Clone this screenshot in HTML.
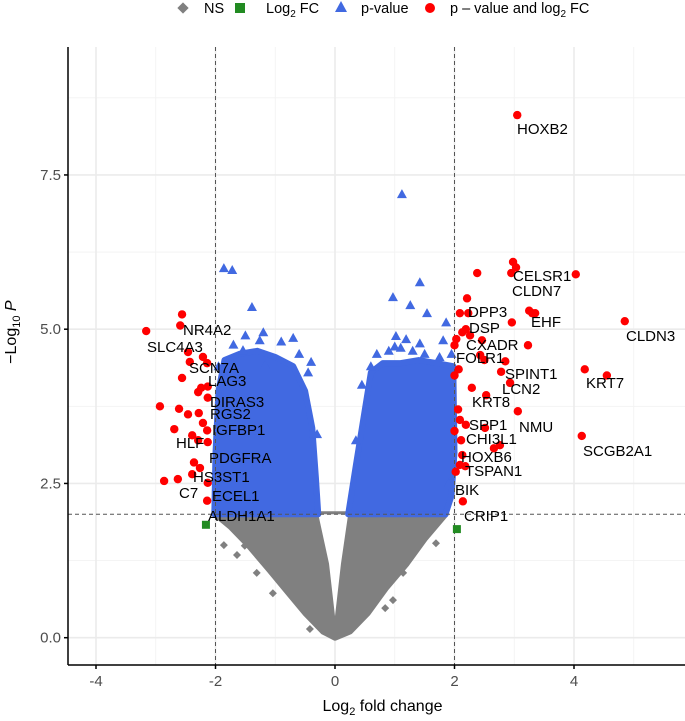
<!DOCTYPE html>
<html><head><meta charset="utf-8"><style>
body{margin:0;background:#fff;}
svg{display:block;font-family:"Liberation Sans",sans-serif;}
.lg{position:absolute;top:0px;font-size:14.5px;color:#000;white-space:nowrap;line-height:18px;}
</style></head><body>
<svg id="chart" width="685" height="721" xmlns="http://www.w3.org/2000/svg"></svg>
<script>
// ---- data ----
const xTicks=[-4,-2,0,2,4];
const yTicks=[0,2.5,5,7.5];
const yTickLabels=["0.0","2.5","5.0","7.5"];
const xMinor=[-3,-1,1,3,5];
const yMinor=[1.25,3.75,6.25,8.75];
const fcCut=2, pCut=2;
// significant (red) points: log2FC, -log10P
const sigFC=[3.05,2.98,3.03,2.95,2.38,4.03,4.85,3.25,3.3,3.35,2.96,2.21,2.09,2.23,2.19,2.13,2.26,2.03,2.0,2.46,3.23,2.43,2.85,2.5,2.07,2.0,2.78,4.18,4.55,2.93,2.29,2.53,2.06,3.06,2.09,2.19,2.0,2.51,2.11,4.13,2.76,2.66,2.13,2.09,2.18,2.02,2.14,
-2.56,-2.59,-3.16,-2.46,-2.21,-2.43,-2.14,-2.56,-2.24,-2.29,-2.13,-2.13,-2.93,-2.61,-2.46,-2.28,-2.21,-2.69,-2.14,-2.39,-2.29,-2.13,-2.36,-2.26,-2.39,-2.63,-2.86,-2.13,-2.14];
const sigP=[8.47,6.09,6.0,5.91,5.91,5.89,5.13,5.3,5.26,5.26,5.11,5.5,5.26,5.26,5.0,4.95,4.9,4.84,4.74,4.82,4.74,4.58,4.48,4.5,4.35,4.25,4.31,4.35,4.25,4.13,4.05,3.93,3.7,3.67,3.53,3.45,3.35,3.4,3.2,3.27,3.12,3.07,2.96,2.8,2.78,2.69,2.21,
5.24,5.06,4.97,4.63,4.55,4.47,4.45,4.21,4.05,3.98,4.07,3.89,3.75,3.71,3.62,3.64,3.48,3.38,3.36,3.28,3.2,3.17,2.84,2.75,2.65,2.57,2.54,2.51,2.22];
// log2FC-only (green)
const fcOnlyFC=[2.04,-2.16];
const fcOnlyP=[1.76,1.83];
// p-value-only (blue) outliers
const pOnlyFC=[1.12,1.42,0.97,1.26,1.54,1.86,1.02,1.19,1.42,1.81,1.0,-1.72,-1.86,-1.39,-1.26,-0.7,-1.54,-0.4,-1.17,
-1.7,-1.5,-1.2,-0.9,-0.6,-0.45,-1.95,-1.85,-0.3,0.45,0.6,0.7,0.9,1.3,1.5,1.75,1.95,1.1,0.35,-1.95,1.9];
const pOnlyP=[7.19,5.76,5.52,5.39,5.26,5.11,4.89,4.84,4.77,4.82,4.72,5.96,5.99,5.36,4.82,4.86,4.66,4.47,4.42,
4.75,4.9,4.95,4.8,4.6,4.3,4.4,3.6,3.3,4.1,4.4,4.6,4.65,4.65,4.6,4.55,4.6,4.7,3.2,2.6,2.5];
// dense p-value cloud envelopes (log2FC, -log10P)
const blueLeftFC=[-2.02,-2.0,-1.95,-1.85,-1.6,-1.3,-1.0,-0.7,-0.5,-0.38,-0.32,-0.28];
const blueLeftP=[2.0,3.0,4.0,4.5,4.6,4.65,4.55,4.4,4.0,3.4,2.6,2.0];
const blueRightFC=[0.22,0.35,0.5,0.6,0.8,1.1,1.4,1.7,1.98,2.0,1.95,1.85];
const blueRightP=[2.0,2.8,3.7,4.3,4.45,4.45,4.5,4.45,4.4,3.0,2.3,2.0];
// NS cloud envelope
const nsOuterFC=[-2.0,-1.75,-1.45,-1.1,-0.8,-0.5,-0.2,0,0.25,0.55,0.85,1.2,1.5,1.85];
const nsOuterP=[2.0,1.8,1.5,1.1,0.75,0.4,0.1,0,0.1,0.4,0.8,1.2,1.6,2.0];
const nsHoleFC=[-0.28,-0.1,0,0.1,0.22];
const nsHoleP=[2.0,1.2,0.35,1.2,2.0];
const nsFC=[-1.86,-1.64,-1.51,-1.31,-1.04,-0.42,1.69,1.14,0.97,0.84];
const nsP=[1.5,1.34,1.49,1.05,0.72,0.14,1.53,1.05,0.61,0.48];
// labels (text, left px, baseline px)
const labTxt=["HOXB2","CELSR1","CLDN7","EHF","CLDN3","DPP3","DSP","CXADR","FOLR1","SPINT1","KRT7","LCN2","KRT8","SPP1","NMU","CHI3L1","SCGB2A1","HOXB6","TSPAN1","BIK","CRIP1","NR4A2","SLC4A3","SCN7A","LAG3","DIRAS3","RGS2","IGFBP1","HLF","PDGFRA","HS3ST1","C7","ECEL1","ALDH1A1"];
const labX=[517,513,512,531,626,468,469,466,456,505,586,502,472,469,519,466,583,461,465,455,464,183,147,189,208,210,210,212,176,209,193,179,212,208];
const labY=[134,281,296,327,341,317,333,350,363,379,388,394,407,430,432,444,456,462,476,495,521,335,352,373,386,407,419,435,448,463,482,498,501,521];

// ---- scales ----
const L=68,R=685,T=47,B=665;
const X=v=>335+59.75*v;
const Y=v=>637.7-61.7*v;
const svg=document.getElementById('chart');
const NS='http://www.w3.org/2000/svg';
function mk(tag,attrs,parent){const e=document.createElementNS(NS,tag);for(const k in attrs)e.setAttribute(k,attrs[k]);(parent||svg).appendChild(e);return e;}

// grid
const grid=mk('g',{});


xMinor.forEach(v=>mk('line',{x1:X(v),x2:X(v),y1:T,y2:B,stroke:'#f2f2f2','stroke-width':0.8},grid));
yMinor.forEach(v=>mk('line',{x1:L,x2:R,y1:Y(v),y2:Y(v),stroke:'#f2f2f2','stroke-width':0.8},grid));
xTicks.forEach(v=>mk('line',{x1:X(v),x2:X(v),y1:T,y2:B,stroke:'#ebebeb','stroke-width':1.6},grid));
yTicks.forEach(v=>mk('line',{x1:L,x2:R,y1:Y(v),y2:Y(v),stroke:'#ebebeb','stroke-width':1.6},grid));

// clouds
const clouds=mk('g',{});


function poly(fx,fy){return fx.map((v,i)=>X(v)+','+Y(fy[i])).join(' ');}
const nsArea=mk('polygon',{points:poly(nsOuterFC,nsOuterP),fill:'#808080',stroke:'#808080','stroke-width':6,'stroke-linejoin':'round'},clouds);


const nsHole=mk('polygon',{points:poly(nsHoleFC,nsHoleP),fill:'#ffffff'},clouds);


const bl=mk('polygon',{points:poly(blueLeftFC,blueLeftP),fill:'#4169e1',stroke:'#4169e1','stroke-width':6,'stroke-linejoin':'round'},clouds);


const br=mk('polygon',{points:poly(blueRightFC,blueRightP),fill:'#4169e1',stroke:'#4169e1','stroke-width':6,'stroke-linejoin':'round'},clouds);


nsFC.forEach((v,i)=>{const x=X(v),y=Y(nsP[i]);const d=mk('polygon',{points:`${x},${y-4} ${x+4},${y} ${x},${y+4} ${x-4},${y}`,fill:'#808080'},clouds);

});
pOnlyFC.forEach((v,i)=>{const x=X(v),y=Y(pOnlyP[i]);const t=mk('polygon',{points:`${x},${y-5} ${x+5},${y+4} ${x-5},${y+4}`,fill:'#4169e1'},clouds);

});

// threshold lines
const th=mk('g',{stroke:'#555','stroke-width':1,'stroke-dasharray':'4,3'});


[-fcCut,fcCut].forEach(v=>mk('line',{x1:X(v),x2:X(v),y1:T,y2:B},th));
mk('line',{x1:L,x2:R,y1:Y(pCut),y2:Y(pCut)},th);

// green & red points
fcOnlyFC.forEach((v,i)=>{const s=mk('rect',{x:X(v)-4,y:Y(fcOnlyP[i])-4,width:8,height:8,fill:'#228b22'});

});
sigFC.forEach((v,i)=>{const c=mk('circle',{cx:X(v),cy:Y(sigP[i]),r:4.2,fill:'#ff0000'});

});

// labels
labTxt.forEach((t,i)=>{const e=mk('text',{x:labX[i],y:labY[i],'font-size':15,fill:'#000'});e.textContent=t;

});

// axes
const ax=mk('g',{stroke:'#000','stroke-width':1.5});


mk('line',{x1:L,x2:L,y1:T,y2:B},ax);
mk('line',{x1:L,x2:R,y1:B,y2:B},ax);
xTicks.forEach(v=>{mk('line',{x1:X(v),x2:X(v),y1:B,y2:B+4},ax);
const t=mk('text',{x:X(v),y:B+21,'font-size':15,fill:'#4d4d4d','text-anchor':'middle',stroke:'none'});t.textContent=v;

});
yTicks.forEach((v,i)=>{mk('line',{x1:L-4,x2:L,y1:Y(v),y2:Y(v)},ax);
const t=mk('text',{x:L-7,y:Y(v)+5,'font-size':15,fill:'#4d4d4d','text-anchor':'end',stroke:'none'});t.textContent=yTickLabels[i];

});
</script>
<div style="position:absolute;left:0;top:0;width:685px;height:721px;pointer-events:none;font-family:'Liberation Sans',sans-serif;">
  <div style="position:absolute;left:40px;width:685px;text-align:center;top:698px;font-size:16px;color:#000;">Log<sub style="font-size:11px">2</sub> fold change</div>
  <div style="position:absolute;left:-42px;top:322px;width:110px;text-align:center;transform:rotate(-90deg);font-size:16px;color:#000;">&minus;Log<sub style="font-size:11px">10</sub> <i>P</i></div>
  <div>
    <div style="position:absolute;left:179px;top:4px;width:8px;height:8px;background:#808080;transform:rotate(45deg);"></div>
    <div class="lg" style="left:204px;">NS</div>
    <div style="position:absolute;left:235px;top:3px;width:10px;height:10px;background:#228b22;"></div>
    <div class="lg" style="left:266px;">Log<sub style="font-size:10px">2</sub> FC</div>
    <div style="position:absolute;left:335px;top:1px;width:0;height:0;border-left:6px solid transparent;border-right:6px solid transparent;border-bottom:11px solid #4169e1;"></div>
    <div class="lg" style="left:361px;">p-value</div>
    <div style="position:absolute;left:425px;top:3px;width:10px;height:10px;border-radius:50%;background:#ff0000;"></div>
    <div class="lg" style="left:450px;">p &ndash; value and log<sub style="font-size:10px">2</sub> FC</div>
  </div>
</div>
</body></html>
